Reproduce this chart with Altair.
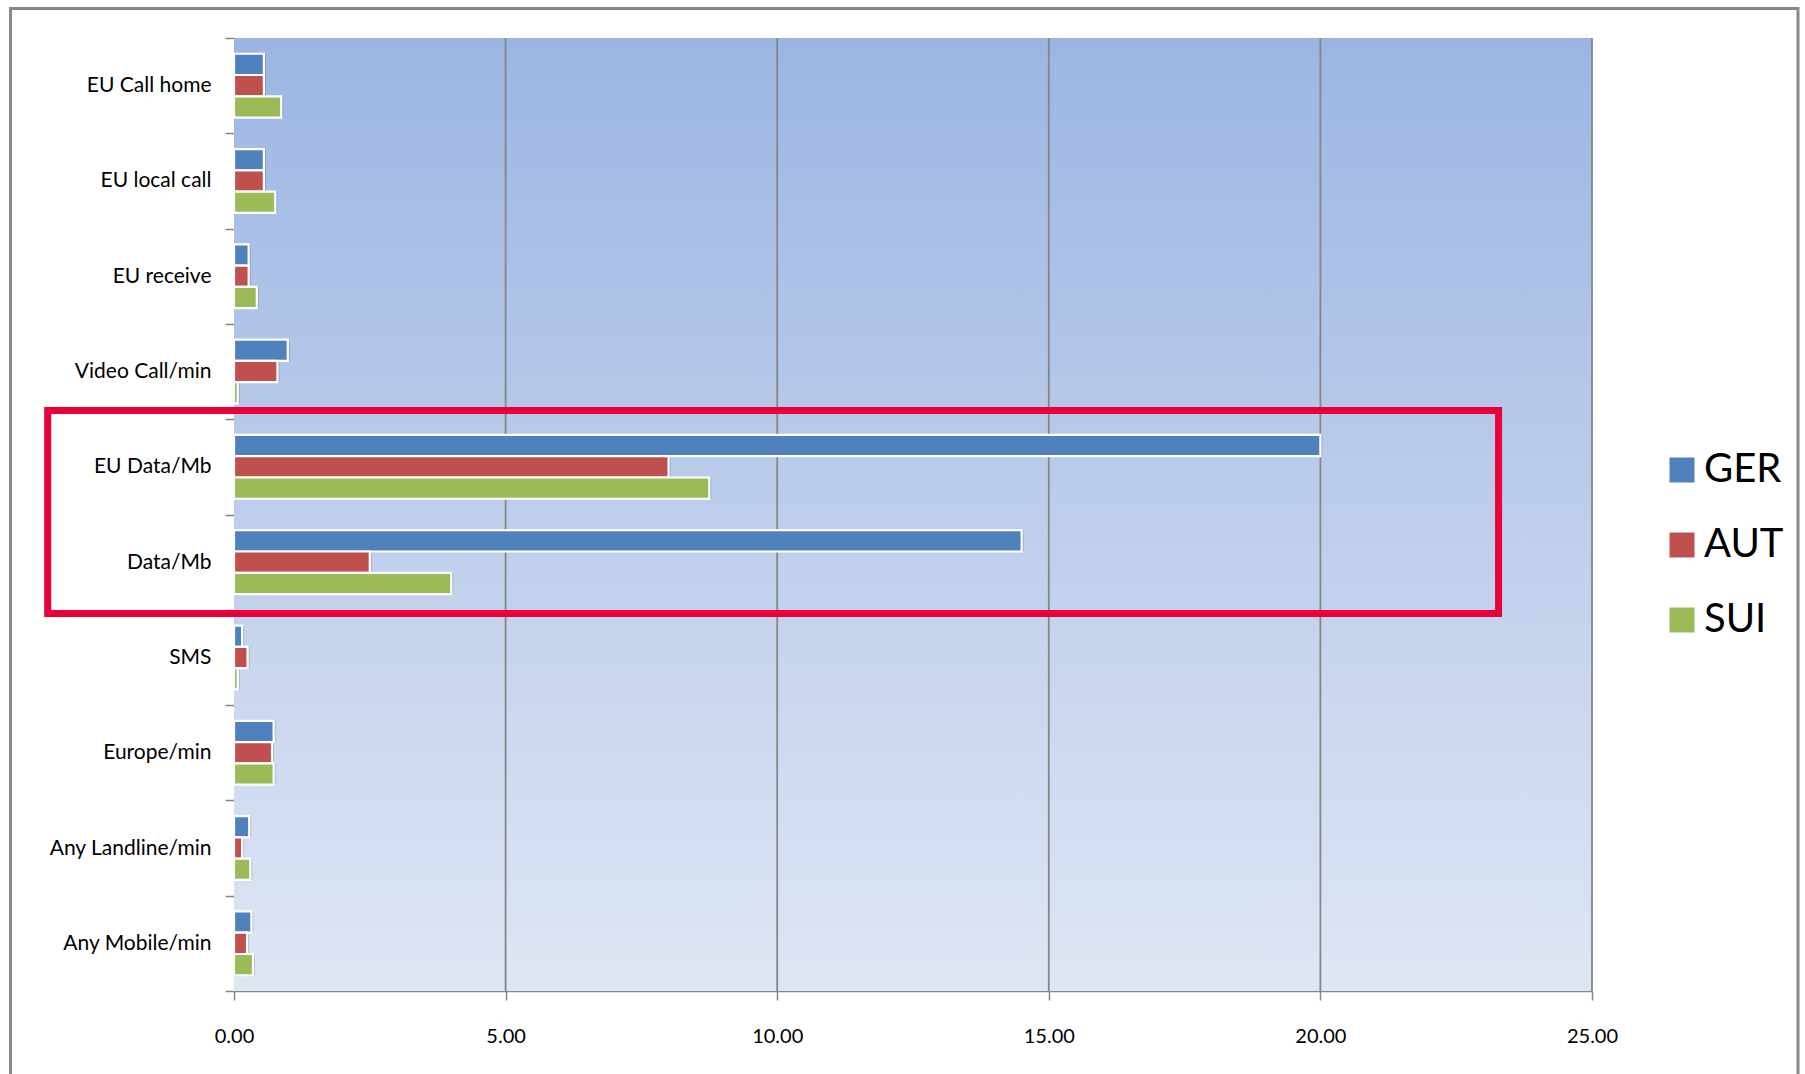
import altair as alt
import pandas as pd

categories = ["EU Call home", "EU local call", "EU receive", "Video Call/min",
              "EU Data/Mb", "Data/Mb", "SMS", "Europe/min",
              "Any Landline/min", "Any Mobile/min"]
series = ["GER", "AUT", "SUI"]
ger = [0.55, 0.55, 0.27, 0.99, 20.0, 14.5, 0.15, 0.73, 0.28, 0.32]
aut = [0.55, 0.55, 0.27, 0.80, 8.0, 2.5, 0.25, 0.70, 0.15, 0.24]
sui = [0.87, 0.76, 0.42, 0.07, 8.75, 4.0, 0.07, 0.73, 0.30, 0.35]
colors = ["#4F81BD", "#C0504D", "#9BBB59"]
x_ticks = [0, 5, 10, 15, 20, 25]
grid_values = [5, 10, 15, 20, 25]

# highlight box (x in data units, y in category-index units from top)
box_x = [-3.43, 23.28]
box_y = [3.91, 6.04]

rows = []
for s, vals in zip(series, [ger, aut, sui]):
    for c, v in zip(categories, vals):
        rows.append({"cat": c, "series": s, "value": v})
df = pd.DataFrame(rows)

W, H = 1358, 953
FONT = "Lato"
GRAY = "#868686"

x_scale = alt.Scale(domain=[0, 25], nice=False, zero=True)
x_enc = alt.X("value:Q", scale=x_scale,
              axis=alt.Axis(values=x_ticks, format=".2f", title=None, grid=False,
                            tickColor=GRAY, tickSize=9, tickWidth=1.5,
                            domainColor=GRAY, domainWidth=1.5, labelFlush=False,
                            labelFontSize=20, labelPadding=26, labelColor="#000",
                            labelFont=FONT))
y_axis = alt.Axis(title=None, domain=False, ticks=True, tickBand="extent",
                  tickColor=GRAY, tickSize=9, tickWidth=1.5,
                  labelFontSize=21, labelPadding=14, labelColor="#000",
                  labelFont=FONT, grid=False)
y_scale = alt.Scale(paddingInner=0, paddingOuter=0)
yoff = alt.YOffset("series:N", sort=series,
                   scale=alt.Scale(paddingInner=0, paddingOuter=0.74))

bg = alt.Chart(pd.DataFrame({"a": [0]})).mark_rect(
    color=alt.LinearGradient(gradient="linear", x1=0, x2=0, y1=0, y2=1,
                             stops=[alt.GradientStop(color="#9BB5E3", offset=0),
                                    alt.GradientStop(color="#DFE6F3", offset=1)])
).encode(x=alt.datum(0), x2=alt.datum(25), y=alt.value(0), y2=alt.value(H))

grid = alt.Chart(pd.DataFrame({"g": grid_values})).mark_rule(
    color=GRAY, strokeWidth=1.8).encode(x=alt.X("g:Q", scale=x_scale), y=alt.value(0), y2=alt.value(H))

shadow = alt.Chart(df).mark_bar(color="#203050", opacity=0.22, yOffset=4, xOffset=2).encode(
    x=x_enc, y=alt.Y("cat:N", sort=categories, scale=y_scale, axis=None), yOffset=yoff)

bars = alt.Chart(df).mark_bar(stroke="white", strokeWidth=2.2).encode(
    x=x_enc, y=alt.Y("cat:N", sort=categories, scale=y_scale, axis=y_axis), yOffset=yoff,
    color=alt.Color("series:N", sort=series,
                    scale=alt.Scale(domain=series, range=colors),
                    legend=alt.Legend(title=None, orient="none", legendX=1428, legendY=412,
                                      symbolType="square", symbolSize=625,
                                      symbolStrokeWidth=0, labelFontSize=40,
                                      labelFont=FONT, labelColor="#000",
                                      rowPadding=35, labelOffset=2, padding=0)))

box_df = pd.DataFrame({"x0": [box_x[0]], "x1": [box_x[1]], "y0": [box_y[0]], "y1": [box_y[1]]})
box = alt.Chart(box_df).mark_rect(fill=None, stroke="#E8003A", strokeWidth=7, clip=False).encode(
    x=alt.X("x0:Q", scale=x_scale), x2="x1:Q",
    y=alt.Y("y0:Q", scale=alt.Scale(domain=[0, 10], reverse=True, nice=False, zero=False), axis=None),
    y2="y1:Q")

frame = alt.Chart(pd.DataFrame({"a": [0]})).mark_rect(
    fill=None, stroke="#888888", strokeWidth=3, clip=False).encode(
    x=alt.value(-223.5), x2=alt.value(1564), y=alt.value(-29.5), y2=alt.value(1070))

chart = alt.layer(bg, grid, shadow, bars, box, frame).resolve_scale(y="independent").properties(
    width=W, height=H,
    autosize=alt.AutoSizeParams(type="none"),
    padding={"left": 234, "top": 38, "right": 213, "bottom": 83},
    background="white",
).configure_view(stroke=None)

chart.save("out.html", embed_options={"renderer": "svg", "actions": False})
